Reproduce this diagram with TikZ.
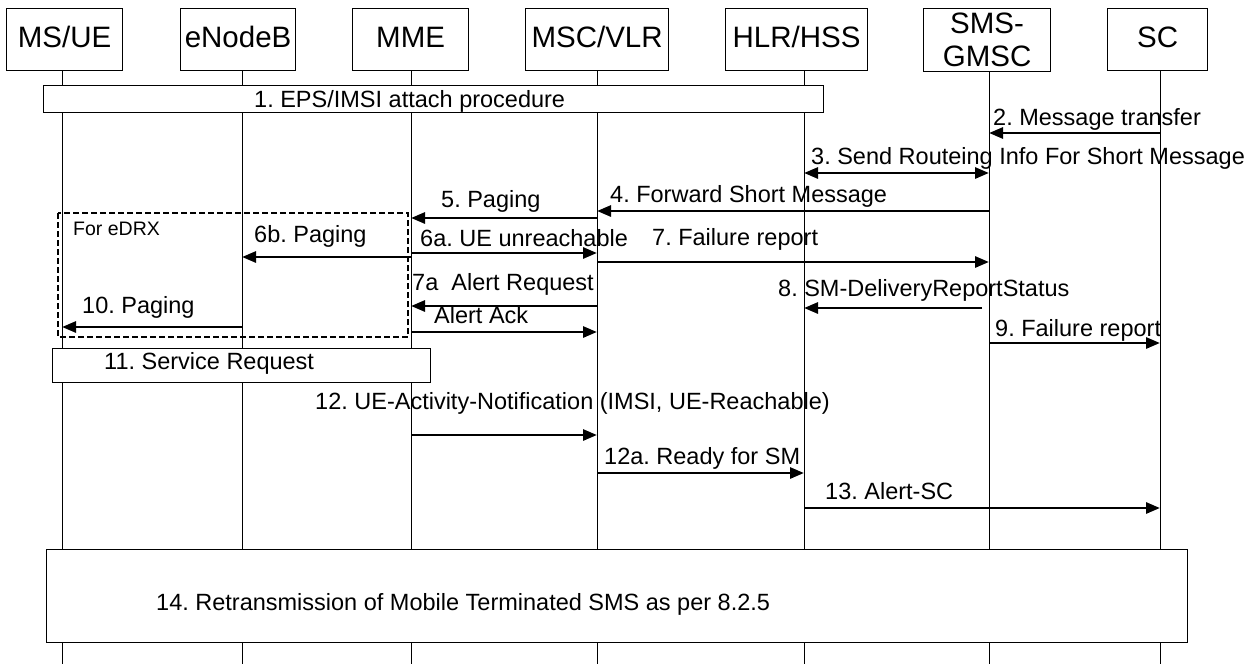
\documentclass[tikz,border=0pt]{standalone}
\usepackage{fontspec}
\setmainfont{Liberation Sans}
\usetikzlibrary{arrows.meta}
\frenchspacing
\begin{document}
\begin{tikzpicture}[x=1pt,y=-1pt,
  every node/.style={font=\fontsize{23.5}{26}\selectfont, inner sep=0pt},
  hdrbase/.style={draw, line width=1.2pt, fill=white, font=\fontsize{29.5}{33}\selectfont, align=center, anchor=north west, minimum height=62pt},
  hdr/.style={hdrbase, text height=21pt, text depth=6pt},
  lbl/.style={anchor=base west},
  msg/.style={line width=2.8pt, -{Triangle[length=14pt,width=11pt]}},
  dmsg/.style={line width=2.8pt, {Triangle[length=14pt,width=11pt]}-{Triangle[length=14pt,width=11pt]}},
  life/.style={line width=1pt},
  bar/.style={draw, line width=1.2pt, fill=white, anchor=north west}]
\useasboundingbox (0,0) rectangle (1256,664);
% lifeline coordinates
\coordinate (xu) at (62,0);
\coordinate (xe) at (242,0);
\coordinate (xm) at (411,0);
\coordinate (xv) at (597,0);
\coordinate (xh) at (804,0);
\coordinate (xg) at (989,0);
\coordinate (xs) at (1160,0);
\foreach \c/\n in {xu/u,xe/e,xm/m,xv/v,xh/h,xg/g,xs/s}{
  \coordinate (\n top) at (\c |- 0,70);
  \coordinate (\n bot) at (\c |- 0,664);
  \draw[life] (\n top) -- (\n bot);
}
% headers
\node[hdr, minimum width=116pt] (ue) at (6,8) {MS/UE};
\node[hdr, minimum width=115pt] (enb) at (180,8) {eNodeB};
\node[hdr, minimum width=116pt] (mme) at (352,8) {MME};
\node[hdr, minimum width=143pt] (msc) at (525,8) {MSC/VLR};
\node[hdr, minimum width=142pt] (hlr) at (725,8) {HLR/HSS};
\node[hdrbase, minimum width=127pt, minimum height=63pt] (gmsc) at (923,8) {SMS-\\GMSC};
\node[hdr, minimum width=100pt] (sc) at (1107,8) {SC};
% box 1
\node[bar, minimum width=780pt, minimum height=27pt] (b1) at (43,85) {};
\node[lbl] (t1) at (254,107) {1. EPS/IMSI attach procedure};
% 2
\node[lbl] (t2) at (993,125) {2. Message transfer};
\draw[msg] (xs |- 0,133) -- (xg |- 0,133);
% 3
\node[lbl] (t3) at (811,164) {3. Send Routeing Info For Short Message};
\draw[dmsg] (xh |- 0,173) -- (xg |- 0,173);
% 4
\node[lbl] (t4) at (610,202) {4. Forward Short Message};
\draw[msg] (xg |- 0,211) -- (xv |- 0,211);
% 5
\node[lbl] (t5) at (441,207) {5. Paging};
\draw[msg] (xv |- 0,218) -- (xm |- 0,218);
% dashed eDRX box
\draw[line width=1.8pt, dash pattern=on 6pt off 3pt] (58,213) rectangle (408,337);
\node[lbl, font=\fontsize{19.5}{22}\selectfont] (tedrx) at (73,235) {For eDRX};
% 6b
\node[lbl] (t6b) at (254,242) {6b. Paging};
\draw[msg] (xm |- 0,257) -- (xe |- 0,257);
% 6a
\node[lbl] (t6a) at (420,246) {6a. UE unreachable};
\draw[msg] (xm |- 0,253) -- (xv |- 0,253);
% 7
\node[lbl] (t7) at (652,245) {7. Failure report};
\draw[msg] (xv |- 0,262) -- (xg |- 0,262);
% 7a
\node[lbl] (t7a) at (412,290) {7a\ \ Alert Request};
\draw[msg] (xv |- 0,306) -- (xm |- 0,306);
% 8
\node[lbl] (t8) at (778,296) {8. SM-DeliveryReportStatus};
\coordinate (s8) at (982,308);
\draw[msg] (s8) -- (xh |- s8);
% Alert Ack
\node[lbl] (tack) at (434,323) {Alert Ack};
\draw[msg] (xm |- 0,332) -- (xv |- 0,332);
% 10
\node[lbl] (t10) at (82,313) {10. Paging};
\draw[msg] (xe |- 0,327) -- (xu |- 0,327);
% 9
\node[lbl] (t9) at (995,336) {9. Failure report};
\draw[msg] (xg |- 0,343) -- (xs |- 0,343);
% 11
\node[bar, minimum width=378pt, minimum height=34pt] (b11) at (52,348) {};
\node[lbl] (t11) at (104,369) {11. Service Request};
% 12
\node[lbl] (t12) at (315,409) {12. UE-Activity-Notification (IMSI, UE-Reachable)};
\draw[msg] (xm |- 0,435) -- (xv |- 0,435);
% 12a
\node[lbl] (t12a) at (604,464) {12a. Ready for SM};
\draw[msg] (xv |- 0,473) -- (xh |- 0,473);
% 13
\node[lbl] (t13) at (825,499) {13. Alert-SC};
\draw[msg] (xh |- 0,508) -- (xs |- 0,508);
% 14
\node[bar, minimum width=1141pt, minimum height=93pt] (b14) at (46,549) {};
\node[lbl] (t14) at (156,610) {14. Retransmission of Mobile Terminated SMS as per 8.2.5};
\end{tikzpicture}
\end{document}
